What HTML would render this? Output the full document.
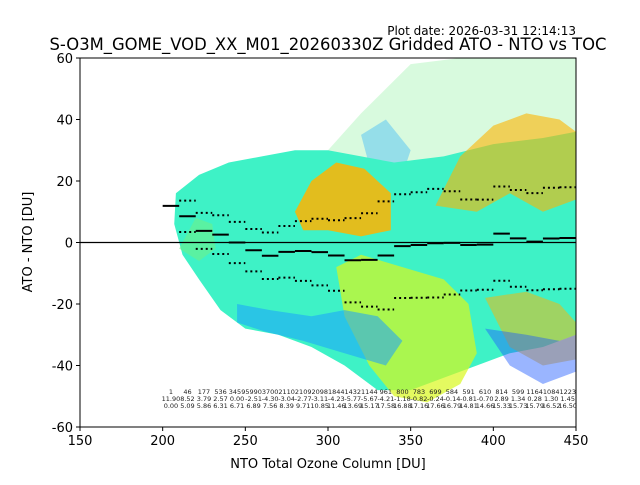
<!DOCTYPE html>
<html><head><meta charset="utf-8"><style>
body{margin:0;background:#fff;}
svg text{font-family:"DejaVu Sans","Liberation Sans",sans-serif;}
</style></head><body>
<svg id="chart" width="640" height="480" viewBox="0 0 640 480" xmlns="http://www.w3.org/2000/svg">
<text x="576" y="35" font-size="12" text-anchor="end">Plot date: 2026-03-31 12:14:13</text>
<text x="328" y="50" font-size="16.4" text-anchor="middle">S-O3M_GOME_VOD_XX_M01_20260330Z Gridded ATO - NTO vs TOC</text>
<g id="cloud"></g>
<g id="marks"></g>
<g id="axes"></g>
<text x="328" y="468" font-size="13" text-anchor="middle">NTO Total Ozone Column [DU]</text>
<text x="32" y="242" font-size="13" text-anchor="middle" transform="rotate(-90 32 242)">ATO - NTO [DU]</text>
</svg>
<script>
const binStarts=[200,210,220,230,240,250,260,270,280,290,300,310,320,330,340,350,360,370,380,390,400,410,420,430,440];
const counts=[1,46,177,536,3459,5990,3700,2110,2109,2098,1844,1432,1144,961,800,783,699,584,591,610,814,599,1164,1084,1223];
const means=[11.90,8.52,3.79,2.57,-0.00,-2.51,-4.30,-3.04,-2.77,-3.11,-4.23,-5.77,-5.67,-4.21,-1.18,-0.82,-0.24,-0.14,-0.81,-0.70,2.89,1.34,0.28,1.30,1.45];
const stds=[0.00,5.09,5.86,6.31,6.71,6.89,7.56,8.39,9.71,10.85,11.46,13.69,15.17,17.58,16.88,17.16,17.66,16.79,14.81,14.66,15.33,15.73,15.79,16.52,16.5];
const xTicks=[150,200,250,300,350,400,450];
const yTicks=[-60,-40,-20,0,20,40,60];
const binWidth=10;

const L=80,R=576,T=58,B=427;
const X=v=>L+(v-150)*(R-L)/300;
const Y=v=>T+(60-v)*(B-T)/120;
const NS="http://www.w3.org/2000/svg";
function mk(tag,attrs,parent){const e=document.createElementNS(NS,tag);for(const k in attrs)e.setAttribute(k,attrs[k]);parent.appendChild(e);return e;}

const cloud=document.getElementById('cloud');
const shapes=[
 {c:"#8ef0a0",o:0.35,p:[[300,30],[320,42],[335,50],[350,58],[380,60],[450,60],[450,20],[300,20]]},
 {c:"#1aa8ff",o:0.35,p:[[320,35],[335,40],[350,30],[345,22],[325,25]]},
 {c:"#3ef2c6",o:1,p:[[208,16],[222,22],[240,26],[260,28],[280,30],[300,30],[320,28],[340,26],[370,28],[400,32],[430,34],[450,36],[450,-30],[430,-34],[410,-36],[390,-40],[370,-44],[350,-48],[330,-48],[310,-40],[290,-34],[270,-30],[250,-28],[235,-22],[222,-12],[212,-4],[207,6]]},
 {c:"#ffb400",o:0.85,p:[[280,10],[290,20],[305,26],[322,24],[338,16],[338,4],[320,2],[300,4],[285,4]]},
 {c:"#ffb400",o:0.6,p:[[365,12],[380,28],[400,38],[420,42],[440,40],[450,36],[450,14],[430,10],[410,16],[390,10]]},
 {c:"#ffb400",o:0.5,p:[[395,-18],[420,-16],[440,-20],[450,-26],[450,-38],[430,-40],[410,-34]]},
 {c:"#d8f81c",o:0.7,p:[[305,-8],[320,-4],[345,-8],[370,-12],[385,-20],[390,-36],[380,-46],[360,-52],[340,-50],[325,-40],[310,-24]]},
 {c:"#1aa0ff",o:0.55,p:[[245,-20],[265,-22],[290,-24],[310,-22],[330,-24],[345,-32],[335,-40],[310,-36],[285,-32],[262,-29],[245,-26]]},
 {c:"#1e5cff",o:0.45,p:[[395,-28],[420,-30],[440,-32],[450,-30],[450,-42],[430,-46],[410,-40]]},
 {c:"#6ef08a",o:0.6,p:[[210,-2],[222,-6],[232,-2],[230,6],[220,8]]}
];
shapes.forEach(s=>{
 const el=mk('polygon',{points:s.p.map(q=>X(q[0])+","+Y(q[1])).join(" "),fill:s.c,'fill-opacity':s.o},cloud);
 
 
});

const axes=document.getElementById('axes');
const fr=mk('rect',{x:L,y:T,width:R-L,height:B-T,fill:"none",stroke:"#000","stroke-width":1},axes);


const zl=mk('line',{x1:L,x2:R,y1:Y(0),y2:Y(0),stroke:"#000","stroke-width":1.3},axes);


xTicks.forEach(v=>{
 mk('line',{x1:X(v),x2:X(v),y1:B,y2:B+4,stroke:"#000"},axes);
 const t=mk('text',{x:X(v),y:B+18,'font-size':13,'text-anchor':'middle'},axes);t.textContent=v;
 
 
});
yTicks.forEach(v=>{
 mk('line',{x1:L-4,x2:L,y1:Y(v),y2:Y(v),stroke:"#000"},axes);
 const t=mk('text',{x:L-7,y:Y(v)+5,'font-size':13,'text-anchor':'end'},axes);t.textContent=v;
 
 
});

const marks=document.getElementById('marks');
binStarts.forEach((b,i)=>{
 const x1=X(b),x2=X(b+binWidth);
 const m=mk('line',{x1:x1,x2:x2,y1:Y(means[i]),y2:Y(means[i]),stroke:"#000","stroke-width":2},marks);
 
 
 if(stds[i]>0){
  [means[i]+stds[i],means[i]-stds[i]].forEach(v=>{
   const d=mk('line',{x1:x1,x2:x2,y1:Y(v),y2:Y(v),stroke:"#000","stroke-width":2,"stroke-dasharray":"2,3"},marks);
   
   
  });
 }
 const xc=(x1+x2)/2;
 [[counts[i],394],[means[i].toFixed(2),401],[stds[i].toFixed(2),408]].forEach(a=>{
  const t=mk('text',{x:xc,y:a[1],'font-size':6.5,'text-anchor':'middle',fill:"#222"},marks);
  t.textContent=a[0];
  
  
 });
});
</script>
</body></html>
